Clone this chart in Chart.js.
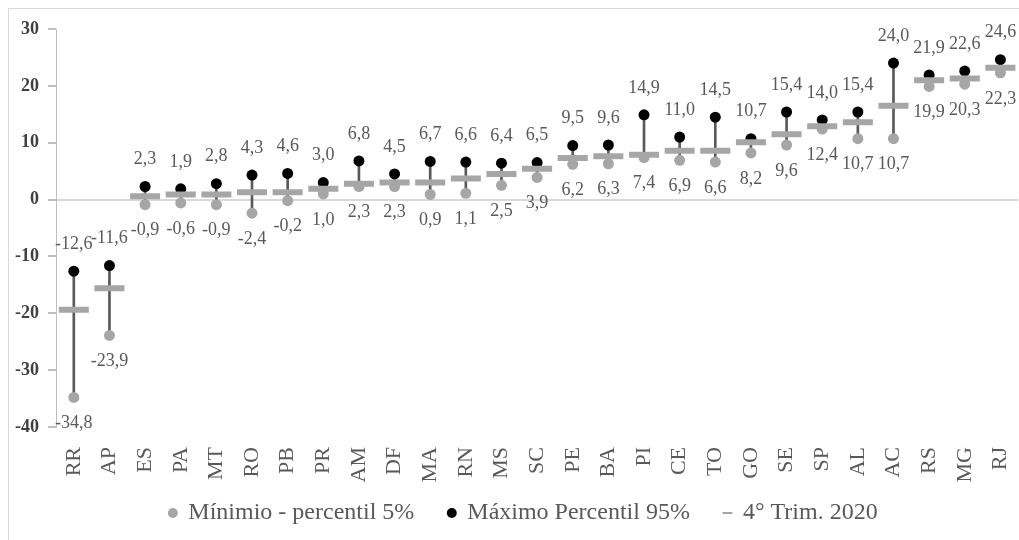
<!DOCTYPE html>
<html>
<head>
<meta charset="utf-8">
<script src="https://cdn.jsdelivr.net/npm/chart.js@4"></script>
<style>
  body { margin: 0; background: #fff; }
  #marco { position: absolute; left: 8px; top: 8px; width: 1030px; height: 560px; border: 1px solid #d9d9d9; }
  #grafico { position: absolute; left: 0; top: 0; }
</style>
</head>
<body>
<div id="marco"></div>
<canvas id="grafico" width="1019" height="540"></canvas>
<script>
// Estados (ordenados como no gráfico)
const estados = ["RR", "AP", "ES", "PA", "MT", "RO", "PB", "PR", "AM", "DF", "MA", "RN", "MS", "SC",
  "PE", "BA", "PI", "CE", "TO", "GO", "SE", "SP", "AL", "AC", "RS", "MG", "RJ"];

// Máximo - percentil 95%
const maximo = [-12.6, -11.6, 2.3, 1.9, 2.8, 4.3, 4.6, 3.0, 6.8, 4.5, 6.7, 6.6, 6.4, 6.5,
  9.5, 9.6, 14.9, 11.0, 14.5, 10.7, 15.4, 14.0, 15.4, 24.0, 21.9, 22.6, 24.6];

// Mínimo - percentil 5%
const minimo = [-34.8, -23.9, -0.9, -0.6, -0.9, -2.4, -0.2, 1.0, 2.3, 2.3, 0.9, 1.1, 2.5, 3.9,
  6.2, 6.3, 7.4, 6.9, 6.6, 8.2, 9.6, 12.4, 10.7, 10.7, 19.9, 20.3, 22.3];

// 4º trimestre 2020
const trim2020 = [-19.4, -15.6, 0.6, 0.9, 0.9, 1.3, 1.3, 1.9, 2.8, 3.0, 3.0, 3.7, 4.5, 5.4,
  7.3, 7.6, 7.9, 8.6, 8.6, 10.1, 11.5, 12.9, 13.6, 16.5, 21.0, 21.3, 23.2];

const fonte = "'Liberation Serif', 'Times New Roman', serif";
const cinzaTexto = "#595959";

// faixa min-max como barra flutuante fina
const faixa = estados.map((e, i) => [minimo[i], maximo[i]]);

function formatar(v) {
  return v.toFixed(1).replace(".", ",");
}

// Plugin para escrever os rótulos dos pontos
const rotulos = {
  id: "rotulos",
  afterDatasetsDraw(chart) {
    const ctx = chart.ctx;
    ctx.save();
    ctx.font = "18px " + fonte;
    ctx.fillStyle = cinzaTexto;
    ctx.textAlign = "center";
    ctx.textBaseline = "middle";
    const metaMax = chart.getDatasetMeta(2);
    const metaMin = chart.getDatasetMeta(1);
    metaMax.data.forEach((p, i) => {
      ctx.fillText(formatar(maximo[i]), p.x, p.y - 27);
    });
    metaMin.data.forEach((p, i) => {
      ctx.fillText(formatar(minimo[i]), p.x, p.y + 26);
    });
    ctx.restore();
  },
};

// Sobe a legenda um pouco (o espaçamento horizontal também afeta o vertical)
const ajusteLegenda = {
  id: "ajusteLegenda",
  afterLayout(chart) {
    const lg = chart.legend;
    lg.top -= 16;
    lg.bottom -= 16;
    lg.left += 14;
    lg.right += 14;
  },
};

new Chart(document.getElementById("grafico"), {
  type: "bar",
  data: {
    labels: estados,
    datasets: [
      {
        label: "faixa",
        data: faixa,
        backgroundColor: "#595959",
        barThickness: 2,
        order: 3,
      },
      {
        type: "line",
        label: "Mínimio - percentil 5%",
        data: minimo,
        showLine: false,
        pointStyle: "circle",
        pointRadius: 5.5,
        pointBorderWidth: 0,
        backgroundColor: "#a6a6a6",
        borderColor: "#a6a6a6",
        order: 2,
      },
      {
        type: "line",
        label: "Máximo Percentil 95%",
        data: maximo,
        showLine: false,
        pointStyle: "circle",
        pointRadius: 5.5,
        pointBorderWidth: 0,
        backgroundColor: "#000000",
        borderColor: "#000000",
        order: 1,
      },
      {
        type: "line",
        label: "4° Trim. 2020",
        data: trim2020,
        showLine: false,
        pointStyle: "line",
        pointRadius: 15,
        pointBorderWidth: 6,
        backgroundColor: "#a6a6a6",
        borderColor: "#a6a6a6",
        order: 0,
      },
    ],
  },
  options: {
    responsive: false,
    animation: false,
    layout: { autoPadding: false, padding: { left: 0, right: 0, top: 29, bottom: -11 } },
    plugins: {
      tooltip: { enabled: false },
      legend: {
        position: "bottom",
        labels: {
          usePointStyle: true,
          boxWidth: 7,
          boxHeight: 7,
          padding: 34,
          color: cinzaTexto,
          font: { family: fonte, size: 24 },
          filter: (item) => item.datasetIndex !== 0,
          sort: (a, b) => a.datasetIndex - b.datasetIndex,
          generateLabels(chart) {
            const itens = Chart.defaults.plugins.legend.labels.generateLabels(chart);
            itens.forEach((it) => {
              if (it.datasetIndex === 3) it.lineWidth = 2;
            });
            return itens;
          },
        },
      },
    },
    scales: {
      x: {
        afterFit: (s) => { s.height = 56; },
        grid: { display: false },
        border: { display: false },
        ticks: {
          minRotation: 90,
          maxRotation: 90,
          color: cinzaTexto,
          // lineHeight baixo: evita a margem extra à direita com rótulos girados
          font: { family: fonte, size: 22, lineHeight: 0.3 },
          padding: 12,
        },
      },
      y: {
        min: -40,
        max: 30,
        afterFit: (s) => { s.width = 56; },
        ticks: {
          stepSize: 10,
          padding: 9,
          color: "#404040",
          font: { family: fonte, size: 18, weight: "bold" },
        },
        border: { color: "#bfbfbf" },
        grid: {
          color: (c) => (c.tick && c.tick.value === 0 ? "#d9d9d9" : "rgba(0,0,0,0)"),
          lineWidth: 2,
          tickColor: "#bfbfbf",
          tickLength: 8,
        },
      },
    },
  },
  plugins: [rotulos, ajusteLegenda],
});
</script>
</body>
</html>
